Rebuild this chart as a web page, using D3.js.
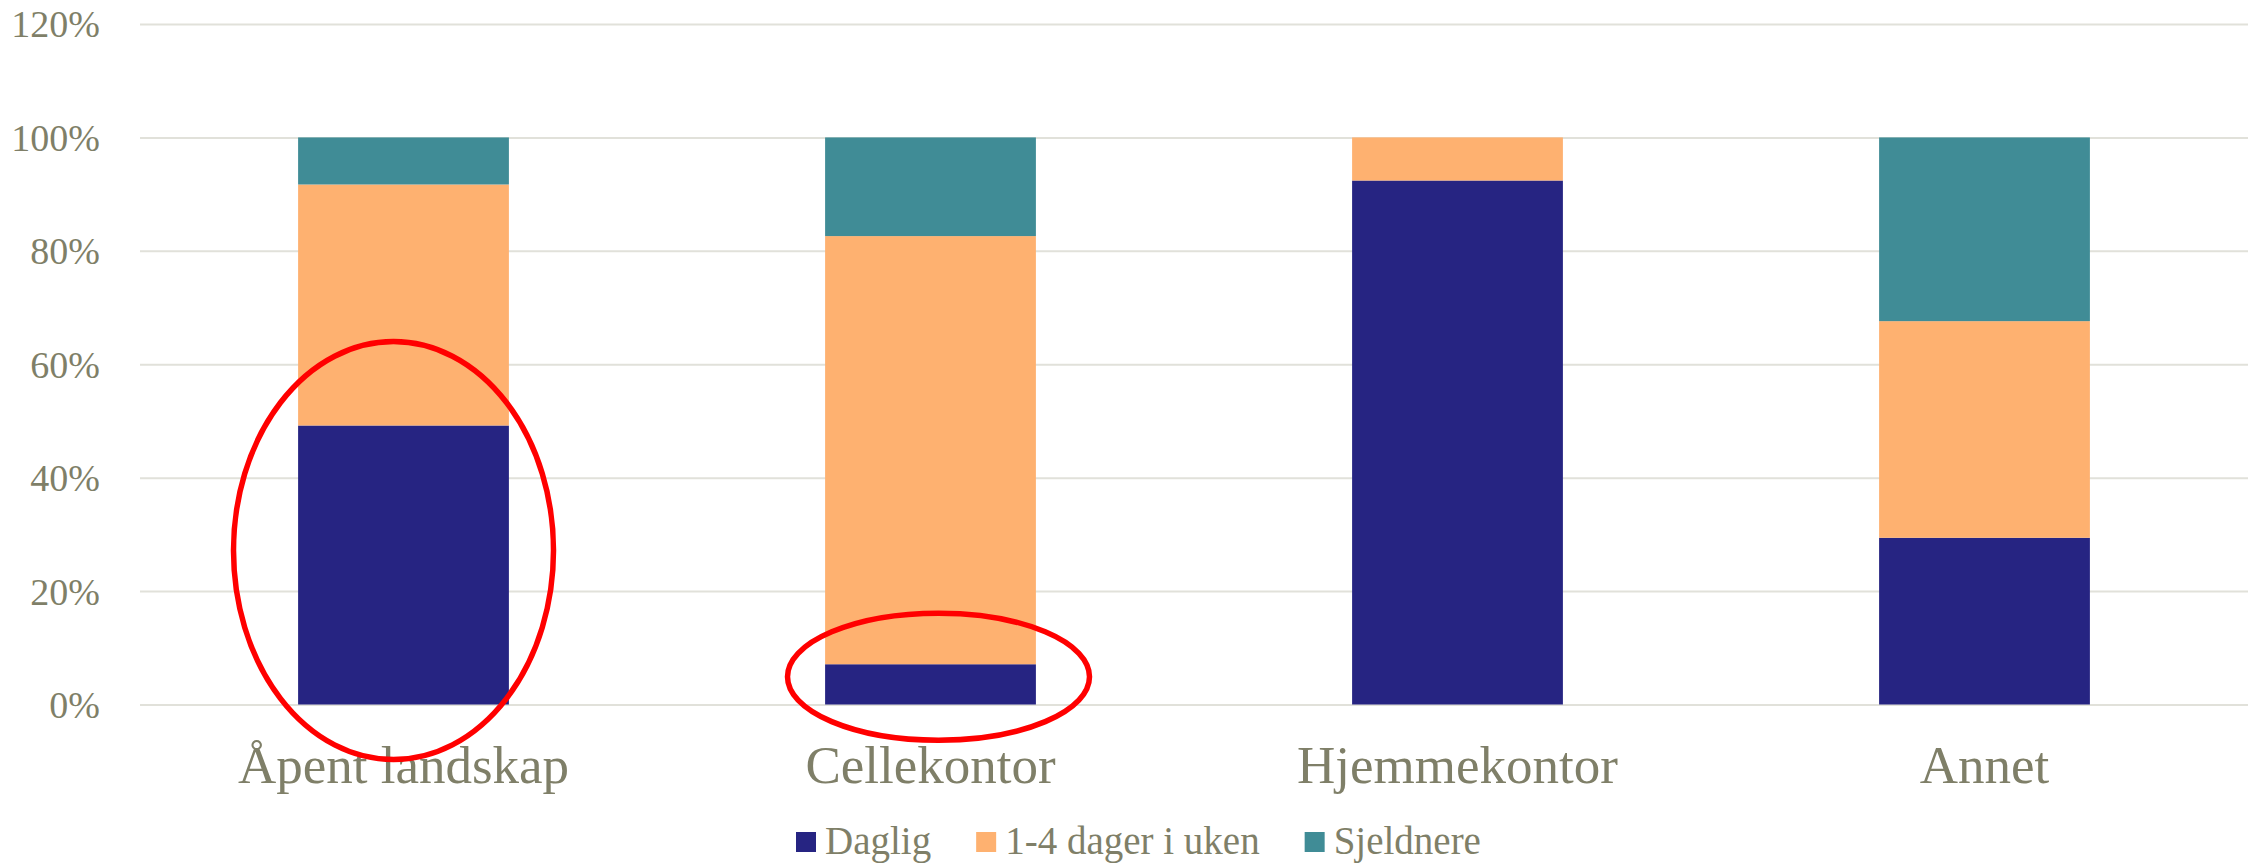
<!DOCTYPE html>
<meta charset="utf-8">
<style>
body { margin: 0; background: #fff; }
text { font-family: "Liberation Serif", "Times New Roman", serif; fill: #7f7f68; }
.grid line { stroke: #e1e1da; stroke-width: 2px; }
</style>
<body>
<script src="https://cdn.jsdelivr.net/npm/d3@7"></script>
<script>

var categories = ["Åpent landskap", "Cellekontor", "Hjemmekontor", "Annet"];
var seriesNames = ["Daglig", "1-4 dager i uken", "Sjeldnere"];
var daglig    = [0.492, 0.071, 0.924, 0.294];
var dager14   = [0.425, 0.755, 0.076, 0.382];
var sjeldnere = [0.083, 0.174, 0.000, 0.324];
var yTicks = [0, 0.2, 0.4, 0.6, 0.8, 1.0, 1.2];
var colors = ["#262482", "#feb170", "#408c96"];

// red hand-drawn ellipses (in category / value units)
var ringCats   = ["Åpent landskap", "Cellekontor"];
var ringTop    = [0.64, 0.161];
var ringBottom = [-0.097, -0.063];

var width = 2259, height = 864;
var svg = d3.select("body").append("svg")
    .attr("width", width)
    .attr("height", height);

var x = d3.scaleBand()
    .domain(categories)
    .range([140, 2248])
    .paddingInner(0.6)
    .paddingOuter(0.3);

var y = d3.scaleLinear()
    .domain([0, 1.2])
    .range([704.5, 24]);

var color = d3.scaleOrdinal().domain(seriesNames).range(colors);

// gridlines + y labels
var yAxis = svg.append("g")
    .attr("class", "grid")
    .attr("transform", "translate(140,0)")
    .call(d3.axisLeft(y)
      .tickValues(yTicks)
      .tickSize(-(2248 - 140))
      .tickPadding(40)
      .tickFormat(d3.format(".0%")));
yAxis.select(".domain").remove();
yAxis.attr("font-family", null).attr("font-size", null);
yAxis.selectAll("text")
    .attr("font-size", "38px")
    .attr("fill", null)
    .attr("dy", "0.34em");

// stack
var table = categories.map(function(c, i) {
  return {cat: c, "Daglig": daglig[i], "1-4 dager i uken": dager14[i], "Sjeldnere": sjeldnere[i]};
});
var stacked = d3.stack().keys(seriesNames)(table);

svg.append("g")
  .selectAll("g")
  .data(stacked)
  .enter().append("g")
    .attr("fill", function(d) { return color(d.key); })
  .selectAll("rect")
  .data(function(d) { return d; })
  .enter().append("rect")
    .attr("x", function(d) { return x(d.data.cat); })
    .attr("y", function(d) { return y(d[1]); })
    .attr("width", x.bandwidth())
    .attr("height", function(d) { return y(d[0]) - y(d[1]); });

// category labels
svg.append("g")
  .selectAll("text")
  .data(categories)
  .enter().append("text")
    .attr("x", function(d) { return x(d) + x.bandwidth() / 2; })
    .attr("y", 783)
    .attr("text-anchor", "middle")
    .attr("font-size", "53px")
    .text(function(d) { return d; });

// legend
var legend = svg.append("g").attr("transform", "translate(796,0)");
var lx = 0;
seriesNames.forEach(function(s) {
  legend.append("rect")
      .attr("x", lx)
      .attr("y", 832)
      .attr("width", 20)
      .attr("height", 20)
      .attr("fill", color(s));
  var t = legend.append("text")
      .attr("x", lx + 29)
      .attr("y", 854)
      .attr("font-size", "39px")
      .text(s);
  lx += 29 + t.node().getComputedTextLength() + 45;
});

// red rings
var ringDx = [-10, 8];
var ringRx = [160, 151];
svg.append("g")
  .selectAll("ellipse")
  .data(ringCats)
  .enter().append("ellipse")
    .attr("cx", function(d, i) { return x(d) + x.bandwidth() / 2 + ringDx[i]; })
    .attr("cy", function(d, i) { return (y(ringTop[i]) + y(ringBottom[i])) / 2; })
    .attr("rx", function(d, i) { return ringRx[i]; })
    .attr("ry", function(d, i) { return (y(ringBottom[i]) - y(ringTop[i])) / 2; })
    .attr("fill", "none")
    .attr("stroke", "#ff0000")
    .attr("stroke-width", 5.5);

</script>
</body>
</html>
